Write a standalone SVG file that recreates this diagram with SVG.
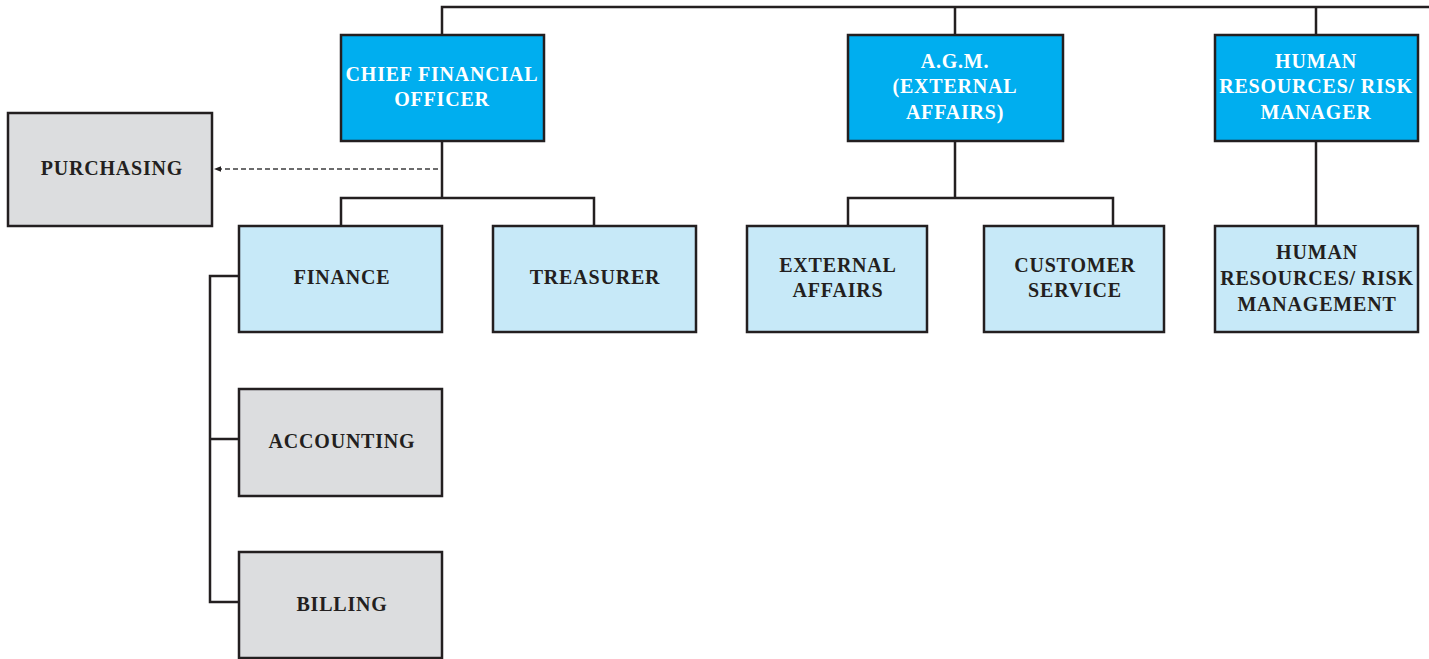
<svg xmlns="http://www.w3.org/2000/svg" width="1429" height="659" viewBox="0 0 1429 659">
  <style>
    .box { stroke: #231f20; stroke-width: 2.5; }
    .head { fill: #00aeef; }
    .unit { fill: #c7e9f8; }
    .aux { fill: #dcdddf; }
    text { font-family: "Liberation Serif", "Times New Roman", serif; font-weight: bold; font-size: 20px; letter-spacing: 0.8px; text-anchor: middle; }
    .light { fill: #ffffff; }
    .dark { fill: #231f20; }
    .link { fill: none; stroke: #231f20; stroke-width: 2.5; }
    .dashed { fill: none; stroke: #3c3c3e; stroke-width: 1.6; stroke-dasharray: 5 3; }
  </style>
  <defs>
    <marker id="arrow" viewBox="0 0 10 10" refX="10" refY="5" markerWidth="7" markerHeight="7" orient="auto" markerUnits="userSpaceOnUse">
      <path d="M0,1 L10,5 L0,9 Z" fill="#231f20"/>
    </marker>
  </defs>

  <rect width="1429" height="659" fill="#ffffff"/>

  <g id="connectors">
    <!-- top bus -->
    <path class="link" d="M442,35 V7 H1429 M955,7 V35 M1316,7 V35"/>
    <!-- CFO branch -->
    <path class="link" d="M442,141 V198 M341,226 V198 H594 V226"/>
    <!-- finance sub-units -->
    <path class="link" d="M239,276 H210 V602 H239 M210,439 H239"/>
    <!-- AGM branch -->
    <path class="link" d="M955,141 V198 M848,226 V198 H1113 V226"/>
    <!-- HR branch -->
    <path class="link" d="M1316,141 V226"/>
    <!-- dotted line to purchasing -->
    <path class="dashed" d="M438,169 H214" marker-end="url(#arrow)"/>
  </g>

  <g id="cfo">
    <rect class="box head" x="341" y="35" width="203" height="106"/>
    <text class="light" x="442" y="81">CHIEF FINANCIAL</text>
    <text class="light" x="442" y="106">OFFICER</text>
  </g>

  <g id="agm">
    <rect class="box head" x="848" y="35" width="215" height="106"/>
    <text class="light" x="955" y="68">A.G.M.</text>
    <text class="light" x="955" y="93">(EXTERNAL</text>
    <text class="light" x="955" y="119">AFFAIRS)</text>
  </g>

  <g id="hr-manager">
    <rect class="box head" x="1215" y="35" width="203" height="106"/>
    <text class="light" x="1316" y="68">HUMAN</text>
    <text class="light" x="1316" y="93">RESOURCES/ RISK</text>
    <text class="light" x="1316" y="119">MANAGER</text>
  </g>

  <g id="purchasing">
    <rect class="box aux" x="8" y="113" width="204" height="113"/>
    <text class="dark" x="112" y="175">PURCHASING</text>
  </g>

  <g id="finance">
    <rect class="box unit" x="239" y="226" width="203" height="106"/>
    <text class="dark" x="342" y="284">FINANCE</text>
  </g>

  <g id="treasurer">
    <rect class="box unit" x="493" y="226" width="203" height="106"/>
    <text class="dark" x="595" y="284">TREASURER</text>
  </g>

  <g id="external-affairs">
    <rect class="box unit" x="747" y="226" width="180" height="106"/>
    <text class="dark" x="838" y="272">EXTERNAL</text>
    <text class="dark" x="838" y="297">AFFAIRS</text>
  </g>

  <g id="customer-service">
    <rect class="box unit" x="984" y="226" width="180" height="106"/>
    <text class="dark" x="1075" y="272">CUSTOMER</text>
    <text class="dark" x="1075" y="297">SERVICE</text>
  </g>

  <g id="hr-management">
    <rect class="box unit" x="1215" y="226" width="203" height="106"/>
    <text class="dark" x="1317" y="259">HUMAN</text>
    <text class="dark" x="1317" y="285">RESOURCES/ RISK</text>
    <text class="dark" x="1317" y="311">MANAGEMENT</text>
  </g>

  <g id="accounting">
    <rect class="box aux" x="239" y="389" width="203" height="107"/>
    <text class="dark" x="342" y="448">ACCOUNTING</text>
  </g>

  <g id="billing">
    <rect class="box aux" x="239" y="552" width="203" height="106"/>
    <text class="dark" x="342" y="611">BILLING</text>
  </g>
</svg>
